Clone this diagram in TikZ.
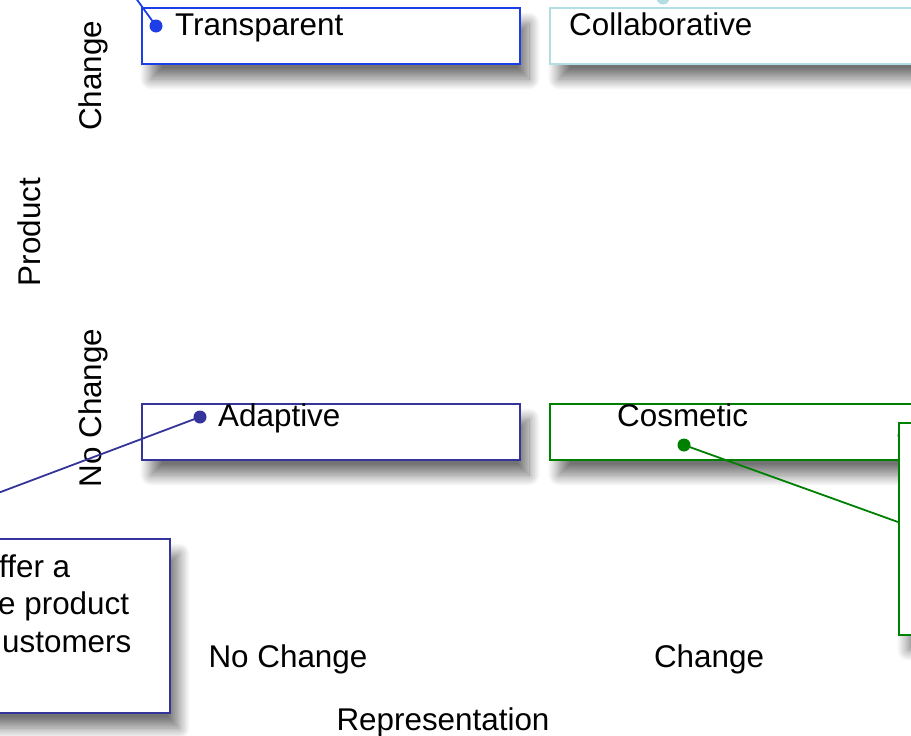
\documentclass[tikz,border=0pt]{standalone}
\usepackage{fontspec}
\setmainfont{Liberation Sans}
\usetikzlibrary{shadows.blur}
\definecolor{tblue}{RGB}{28,62,228}
\definecolor{cteal}{RGB}{178,222,226}
\definecolor{aindigo}{RGB}{52,52,154}
\definecolor{cgreen}{RGB}{0,128,0}
\begin{document}
\begin{tikzpicture}[x=1pt,y=-1pt,
  every node/.style={font=\fontsize{31.4}{37}\selectfont},
  box/.style={draw, line width=2pt, fill=white, anchor=north west, inner sep=0pt,
    blur shadow={shadow xshift=9pt, shadow yshift=-15pt, shadow blur radius=11pt, shadow opacity=55, shadow blur steps=20}},
  quad/.style={box, minimum width=378pt, minimum height=56pt},
  lbl/.style={anchor=base west, inner sep=0pt},
  axl/.style={anchor=base, inner sep=0pt},
  dot/.style={circle, fill, inner sep=0pt, minimum size=13pt},
  conn/.style={line width=1.8pt}]
\useasboundingbox (0,0) rectangle (911,736);
\clip (0,0) rectangle (911,736);
% axis labels
\node[axl, rotate=90] (ych) at (101,76) {Change};
\node[axl, rotate=90] (ynch) at (101,408) {No Change};
\node[axl, rotate=90] (yprod) at (40,232) {Product};
\node[axl] (xnch) at (288,667) {No Change};
\node[axl] (xch) at (709,667) {Change};
\node[axl] (xrep) at (443,730) {Representation};
% quadrant boxes
\node[quad, draw=tblue] (tbox) at (141,7) {};
\node[quad, draw=cteal] (cbox) at (549,7) {};
\node[quad, draw=aindigo] (abox) at (141,403) {};
\node[quad, draw=cgreen] (mbox) at (549,403) {};
\node[lbl] (ttxt) at (175,35) {Transparent};
\node[lbl] (ctxt) at (569,35) {Collaborative};
\node[lbl] (atxt) at (218,426) {Adaptive};
\node[lbl] (mtxt) at (617,426) {Cosmetic};
% callout boxes
\node[box, draw=aindigo, minimum width=400pt, minimum height=174pt] (acall) at (-231,538) {};
\node[lbl] (al1) at (-1,577) {ffer a};
\node[lbl] (al2) at (-2,614) {e product};
\node[lbl] (al3) at (2,652) {ustomers};
\node[box, draw=cgreen, minimum width=300pt, minimum height=212pt] (mcall) at (898,422) {};
% dots and connectors
\node[dot, fill=tblue] (tdot) at (156,26) {};
\node[dot, fill=cteal] (cdot) at (663,-2) {};
\node[dot, fill=aindigo] (adot) at (200,417) {};
\node[dot, fill=cgreen] (mdot) at (684,445) {};
\coordinate (tend) at (130,-10);
\coordinate (aend) at (-10,496);
\coordinate (mend) at (mcall.west |- 0,522);
\draw[conn, tblue] (tdot.center) -- (tend);
\draw[conn, aindigo] (adot.center) -- (aend);
\draw[conn, cgreen] (mdot.center) -- (mend);
\end{tikzpicture}
\end{document}
